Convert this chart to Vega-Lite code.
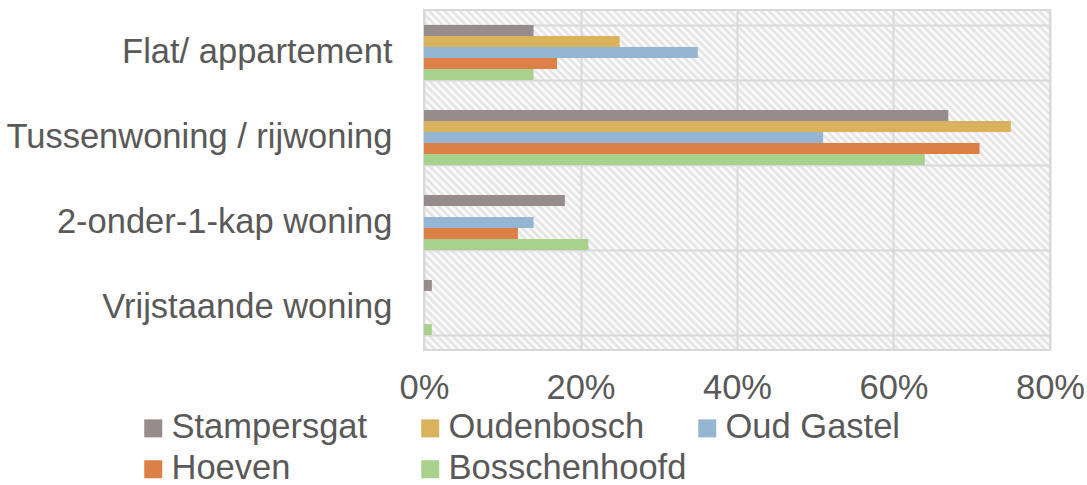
{
  "$schema": "https://vega.github.io/schema/vega-lite/v6.json",
  "width": 626,
  "height": 340,
  "autosize": "none",
  "padding": {"left": 424, "top": 10, "right": 37, "bottom": 135},
  "background": "white",
  "config": {
    "font": "Liberation Sans",
    "view": {
      "stroke": "#d9d9d9",
      "strokeWidth": 2,
      "fill": {
        "gradient": "linear",
        "x1": 0, "y1": 1, "x2": 1.1915, "y2": 0.353,
        "stops": [
          {"offset":0,"color":"#fff"},{"offset":0.004,"color":"#e0e0e0"},{"offset":0.008,"color":"#fff"},{"offset":0.012,"color":"#e0e0e0"},{"offset":0.016,"color":"#fff"},{"offset":0.02,"color":"#e0e0e0"},{"offset":0.024,"color":"#fff"},{"offset":0.028,"color":"#e0e0e0"},{"offset":0.032,"color":"#fff"},{"offset":0.036,"color":"#e0e0e0"},
          {"offset":0.04,"color":"#fff"},{"offset":0.044,"color":"#e0e0e0"},{"offset":0.048,"color":"#fff"},{"offset":0.052,"color":"#e0e0e0"},{"offset":0.056,"color":"#fff"},{"offset":0.06,"color":"#e0e0e0"},{"offset":0.064,"color":"#fff"},{"offset":0.068,"color":"#e0e0e0"},{"offset":0.072,"color":"#fff"},{"offset":0.076,"color":"#e0e0e0"},
          {"offset":0.08,"color":"#fff"},{"offset":0.084,"color":"#e0e0e0"},{"offset":0.088,"color":"#fff"},{"offset":0.092,"color":"#e0e0e0"},{"offset":0.096,"color":"#fff"},{"offset":0.1,"color":"#e0e0e0"},{"offset":0.104,"color":"#fff"},{"offset":0.108,"color":"#e0e0e0"},{"offset":0.112,"color":"#fff"},{"offset":0.116,"color":"#e0e0e0"},
          {"offset":0.12,"color":"#fff"},{"offset":0.124,"color":"#e0e0e0"},{"offset":0.128,"color":"#fff"},{"offset":0.132,"color":"#e0e0e0"},{"offset":0.136,"color":"#fff"},{"offset":0.14,"color":"#e0e0e0"},{"offset":0.144,"color":"#fff"},{"offset":0.148,"color":"#e0e0e0"},{"offset":0.152,"color":"#fff"},{"offset":0.156,"color":"#e0e0e0"},
          {"offset":0.16,"color":"#fff"},{"offset":0.164,"color":"#e0e0e0"},{"offset":0.168,"color":"#fff"},{"offset":0.172,"color":"#e0e0e0"},{"offset":0.176,"color":"#fff"},{"offset":0.18,"color":"#e0e0e0"},{"offset":0.184,"color":"#fff"},{"offset":0.188,"color":"#e0e0e0"},{"offset":0.192,"color":"#fff"},{"offset":0.196,"color":"#e0e0e0"},
          {"offset":0.2,"color":"#fff"},{"offset":0.204,"color":"#e0e0e0"},{"offset":0.208,"color":"#fff"},{"offset":0.212,"color":"#e0e0e0"},{"offset":0.216,"color":"#fff"},{"offset":0.22,"color":"#e0e0e0"},{"offset":0.224,"color":"#fff"},{"offset":0.228,"color":"#e0e0e0"},{"offset":0.232,"color":"#fff"},{"offset":0.236,"color":"#e0e0e0"},
          {"offset":0.24,"color":"#fff"},{"offset":0.244,"color":"#e0e0e0"},{"offset":0.248,"color":"#fff"},{"offset":0.252,"color":"#e0e0e0"},{"offset":0.256,"color":"#fff"},{"offset":0.26,"color":"#e0e0e0"},{"offset":0.264,"color":"#fff"},{"offset":0.268,"color":"#e0e0e0"},{"offset":0.272,"color":"#fff"},{"offset":0.276,"color":"#e0e0e0"},
          {"offset":0.28,"color":"#fff"},{"offset":0.284,"color":"#e0e0e0"},{"offset":0.288,"color":"#fff"},{"offset":0.292,"color":"#e0e0e0"},{"offset":0.296,"color":"#fff"},{"offset":0.3,"color":"#e0e0e0"},{"offset":0.304,"color":"#fff"},{"offset":0.308,"color":"#e0e0e0"},{"offset":0.312,"color":"#fff"},{"offset":0.316,"color":"#e0e0e0"},
          {"offset":0.32,"color":"#fff"},{"offset":0.324,"color":"#e0e0e0"},{"offset":0.328,"color":"#fff"},{"offset":0.332,"color":"#e0e0e0"},{"offset":0.336,"color":"#fff"},{"offset":0.34,"color":"#e0e0e0"},{"offset":0.344,"color":"#fff"},{"offset":0.348,"color":"#e0e0e0"},{"offset":0.352,"color":"#fff"},{"offset":0.356,"color":"#e0e0e0"},
          {"offset":0.36,"color":"#fff"},{"offset":0.364,"color":"#e0e0e0"},{"offset":0.368,"color":"#fff"},{"offset":0.372,"color":"#e0e0e0"},{"offset":0.376,"color":"#fff"},{"offset":0.38,"color":"#e0e0e0"},{"offset":0.384,"color":"#fff"},{"offset":0.388,"color":"#e0e0e0"},{"offset":0.392,"color":"#fff"},{"offset":0.396,"color":"#e0e0e0"},
          {"offset":0.4,"color":"#fff"},{"offset":0.404,"color":"#e0e0e0"},{"offset":0.408,"color":"#fff"},{"offset":0.412,"color":"#e0e0e0"},{"offset":0.416,"color":"#fff"},{"offset":0.42,"color":"#e0e0e0"},{"offset":0.424,"color":"#fff"},{"offset":0.428,"color":"#e0e0e0"},{"offset":0.432,"color":"#fff"},{"offset":0.436,"color":"#e0e0e0"},
          {"offset":0.44,"color":"#fff"},{"offset":0.444,"color":"#e0e0e0"},{"offset":0.448,"color":"#fff"},{"offset":0.452,"color":"#e0e0e0"},{"offset":0.456,"color":"#fff"},{"offset":0.46,"color":"#e0e0e0"},{"offset":0.464,"color":"#fff"},{"offset":0.468,"color":"#e0e0e0"},{"offset":0.472,"color":"#fff"},{"offset":0.476,"color":"#e0e0e0"},
          {"offset":0.48,"color":"#fff"},{"offset":0.484,"color":"#e0e0e0"},{"offset":0.488,"color":"#fff"},{"offset":0.492,"color":"#e0e0e0"},{"offset":0.496,"color":"#fff"},{"offset":0.5,"color":"#e0e0e0"},{"offset":0.504,"color":"#fff"},{"offset":0.508,"color":"#e0e0e0"},{"offset":0.512,"color":"#fff"},{"offset":0.516,"color":"#e0e0e0"},
          {"offset":0.52,"color":"#fff"},{"offset":0.524,"color":"#e0e0e0"},{"offset":0.528,"color":"#fff"},{"offset":0.532,"color":"#e0e0e0"},{"offset":0.536,"color":"#fff"},{"offset":0.54,"color":"#e0e0e0"},{"offset":0.544,"color":"#fff"},{"offset":0.548,"color":"#e0e0e0"},{"offset":0.552,"color":"#fff"},{"offset":0.556,"color":"#e0e0e0"},
          {"offset":0.56,"color":"#fff"},{"offset":0.564,"color":"#e0e0e0"},{"offset":0.568,"color":"#fff"},{"offset":0.572,"color":"#e0e0e0"},{"offset":0.576,"color":"#fff"},{"offset":0.58,"color":"#e0e0e0"},{"offset":0.584,"color":"#fff"},{"offset":0.588,"color":"#e0e0e0"},{"offset":0.592,"color":"#fff"},{"offset":0.596,"color":"#e0e0e0"},
          {"offset":0.6,"color":"#fff"},{"offset":0.604,"color":"#e0e0e0"},{"offset":0.608,"color":"#fff"},{"offset":0.612,"color":"#e0e0e0"},{"offset":0.616,"color":"#fff"},{"offset":0.62,"color":"#e0e0e0"},{"offset":0.624,"color":"#fff"},{"offset":0.628,"color":"#e0e0e0"},{"offset":0.632,"color":"#fff"},{"offset":0.636,"color":"#e0e0e0"},
          {"offset":0.64,"color":"#fff"},{"offset":0.644,"color":"#e0e0e0"},{"offset":0.648,"color":"#fff"},{"offset":0.652,"color":"#e0e0e0"},{"offset":0.656,"color":"#fff"},{"offset":0.66,"color":"#e0e0e0"},{"offset":0.664,"color":"#fff"},{"offset":0.668,"color":"#e0e0e0"},{"offset":0.672,"color":"#fff"},{"offset":0.676,"color":"#e0e0e0"},
          {"offset":0.68,"color":"#fff"},{"offset":0.684,"color":"#e0e0e0"},{"offset":0.688,"color":"#fff"},{"offset":0.692,"color":"#e0e0e0"},{"offset":0.696,"color":"#fff"},{"offset":0.7,"color":"#e0e0e0"},{"offset":0.704,"color":"#fff"},{"offset":0.708,"color":"#e0e0e0"},{"offset":0.712,"color":"#fff"},{"offset":0.716,"color":"#e0e0e0"},
          {"offset":0.72,"color":"#fff"},{"offset":0.724,"color":"#e0e0e0"},{"offset":0.728,"color":"#fff"},{"offset":0.732,"color":"#e0e0e0"},{"offset":0.736,"color":"#fff"},{"offset":0.74,"color":"#e0e0e0"},{"offset":0.744,"color":"#fff"},{"offset":0.748,"color":"#e0e0e0"},{"offset":0.752,"color":"#fff"},{"offset":0.756,"color":"#e0e0e0"},
          {"offset":0.76,"color":"#fff"},{"offset":0.764,"color":"#e0e0e0"},{"offset":0.768,"color":"#fff"},{"offset":0.772,"color":"#e0e0e0"},{"offset":0.776,"color":"#fff"},{"offset":0.78,"color":"#e0e0e0"},{"offset":0.784,"color":"#fff"},{"offset":0.788,"color":"#e0e0e0"},{"offset":0.792,"color":"#fff"},{"offset":0.796,"color":"#e0e0e0"},
          {"offset":0.8,"color":"#fff"},{"offset":0.804,"color":"#e0e0e0"},{"offset":0.808,"color":"#fff"},{"offset":0.812,"color":"#e0e0e0"},{"offset":0.816,"color":"#fff"},{"offset":0.82,"color":"#e0e0e0"},{"offset":0.824,"color":"#fff"},{"offset":0.828,"color":"#e0e0e0"},{"offset":0.832,"color":"#fff"},{"offset":0.836,"color":"#e0e0e0"},
          {"offset":0.84,"color":"#fff"},{"offset":0.844,"color":"#e0e0e0"},{"offset":0.848,"color":"#fff"},{"offset":0.852,"color":"#e0e0e0"},{"offset":0.856,"color":"#fff"},{"offset":0.86,"color":"#e0e0e0"},{"offset":0.864,"color":"#fff"},{"offset":0.868,"color":"#e0e0e0"},{"offset":0.872,"color":"#fff"},{"offset":0.876,"color":"#e0e0e0"},
          {"offset":0.88,"color":"#fff"},{"offset":0.884,"color":"#e0e0e0"},{"offset":0.888,"color":"#fff"},{"offset":0.892,"color":"#e0e0e0"},{"offset":0.896,"color":"#fff"},{"offset":0.9,"color":"#e0e0e0"},{"offset":0.904,"color":"#fff"},{"offset":0.908,"color":"#e0e0e0"},{"offset":0.912,"color":"#fff"},{"offset":0.916,"color":"#e0e0e0"},
          {"offset":0.92,"color":"#fff"},{"offset":0.924,"color":"#e0e0e0"},{"offset":0.928,"color":"#fff"},{"offset":0.932,"color":"#e0e0e0"},{"offset":0.936,"color":"#fff"},{"offset":0.94,"color":"#e0e0e0"},{"offset":0.944,"color":"#fff"},{"offset":0.948,"color":"#e0e0e0"},{"offset":0.952,"color":"#fff"},{"offset":0.956,"color":"#e0e0e0"},
          {"offset":0.96,"color":"#fff"},{"offset":0.964,"color":"#e0e0e0"},{"offset":0.968,"color":"#fff"},{"offset":0.972,"color":"#e0e0e0"},{"offset":0.976,"color":"#fff"},{"offset":0.98,"color":"#e0e0e0"},{"offset":0.984,"color":"#fff"},{"offset":0.988,"color":"#e0e0e0"},{"offset":0.992,"color":"#fff"},{"offset":0.996,"color":"#e0e0e0"},
          {"offset":1,"color":"#fff"}
        ]
      }
    }
  },
  "data": {
    "values": [
      {"woning": "Flat/ appartement", "plaats": "Stampersgat", "aandeel": 0.14},
      {"woning": "Flat/ appartement", "plaats": "Oudenbosch", "aandeel": 0.25},
      {"woning": "Flat/ appartement", "plaats": "Oud Gastel", "aandeel": 0.35},
      {"woning": "Flat/ appartement", "plaats": "Hoeven", "aandeel": 0.17},
      {"woning": "Flat/ appartement", "plaats": "Bosschenhoofd", "aandeel": 0.14},
      {"woning": "Tussenwoning / rijwoning", "plaats": "Stampersgat", "aandeel": 0.67},
      {"woning": "Tussenwoning / rijwoning", "plaats": "Oudenbosch", "aandeel": 0.75},
      {"woning": "Tussenwoning / rijwoning", "plaats": "Oud Gastel", "aandeel": 0.51},
      {"woning": "Tussenwoning / rijwoning", "plaats": "Hoeven", "aandeel": 0.71},
      {"woning": "Tussenwoning / rijwoning", "plaats": "Bosschenhoofd", "aandeel": 0.64},
      {"woning": "2-onder-1-kap woning", "plaats": "Stampersgat", "aandeel": 0.18},
      {"woning": "2-onder-1-kap woning", "plaats": "Oudenbosch", "aandeel": 0},
      {"woning": "2-onder-1-kap woning", "plaats": "Oud Gastel", "aandeel": 0.14},
      {"woning": "2-onder-1-kap woning", "plaats": "Hoeven", "aandeel": 0.12},
      {"woning": "2-onder-1-kap woning", "plaats": "Bosschenhoofd", "aandeel": 0.21},
      {"woning": "Vrijstaande woning", "plaats": "Stampersgat", "aandeel": 0.01},
      {"woning": "Vrijstaande woning", "plaats": "Oudenbosch", "aandeel": 0},
      {"woning": "Vrijstaande woning", "plaats": "Oud Gastel", "aandeel": 0},
      {"woning": "Vrijstaande woning", "plaats": "Hoeven", "aandeel": 0},
      {"woning": "Vrijstaande woning", "plaats": "Bosschenhoofd", "aandeel": 0.01}
    ]
  },
  "mark": {"type": "bar"},
  "encoding": {
    "y": {
      "field": "woning",
      "type": "nominal",
      "sort": ["Flat/ appartement", "Tussenwoning / rijwoning", "2-onder-1-kap woning", "Vrijstaande woning"],
      "scale": {"paddingInner": 0.353, "paddingOuter": 0.1765},
      "axis": {
        "title": null,
        "domain": false,
        "ticks": false,
        "grid": true,
        "tickBand": "extent",
        "gridColor": "#d9d9d9",
        "gridWidth": 2,
        "labelFontSize": 34.5,
        "labelColor": "#595959",
        "labelPadding": 32,
        "labelLimit": 0
      }
    },
    "yOffset": {
      "field": "plaats",
      "type": "nominal",
      "sort": ["Stampersgat", "Oudenbosch", "Oud Gastel", "Hoeven", "Bosschenhoofd"],
      "scale": {"paddingInner": 0, "paddingOuter": 0}
    },
    "x": {
      "field": "aandeel",
      "type": "quantitative",
      "scale": {"domain": [0, 0.8], "nice": false},
      "axis": {
        "title": null,
        "values": [0, 0.2, 0.4, 0.6, 0.8],
        "format": ".0%",
        "domain": false,
        "ticks": false,
        "grid": true,
        "gridColor": "#d9d9d9",
        "gridWidth": 2,
        "labelFontSize": 34.5,
        "labelColor": "#595959",
        "labelPadding": 21,
        "labelFlush": false
      }
    },
    "color": {
      "field": "plaats",
      "type": "nominal",
      "sort": ["Stampersgat", "Oudenbosch", "Oud Gastel", "Hoeven", "Bosschenhoofd"],
      "scale": {
        "domain": ["Stampersgat", "Oudenbosch", "Oud Gastel", "Hoeven", "Bosschenhoofd"],
        "range": ["#968c8c", "#d8b25c", "#94b6d2", "#dd8047", "#a9d18e"]
      },
      "legend": {
        "title": null,
        "orient": "none",
        "legendX": -288,
        "legendY": 401,
        "direction": "horizontal",
        "columns": 3,
        "gridAlign": "all",
        "columnPadding": 3,
        "rowPadding": 6,
        "symbolType": "square",
        "symbolSize": 324,
        "symbolStrokeWidth": 0,
        "labelFontSize": 34.5,
        "labelColor": "#595959",
        "labelOffset": 1,
        "labelLimit": 0,
        "padding": 0
      }
    }
  }
}
